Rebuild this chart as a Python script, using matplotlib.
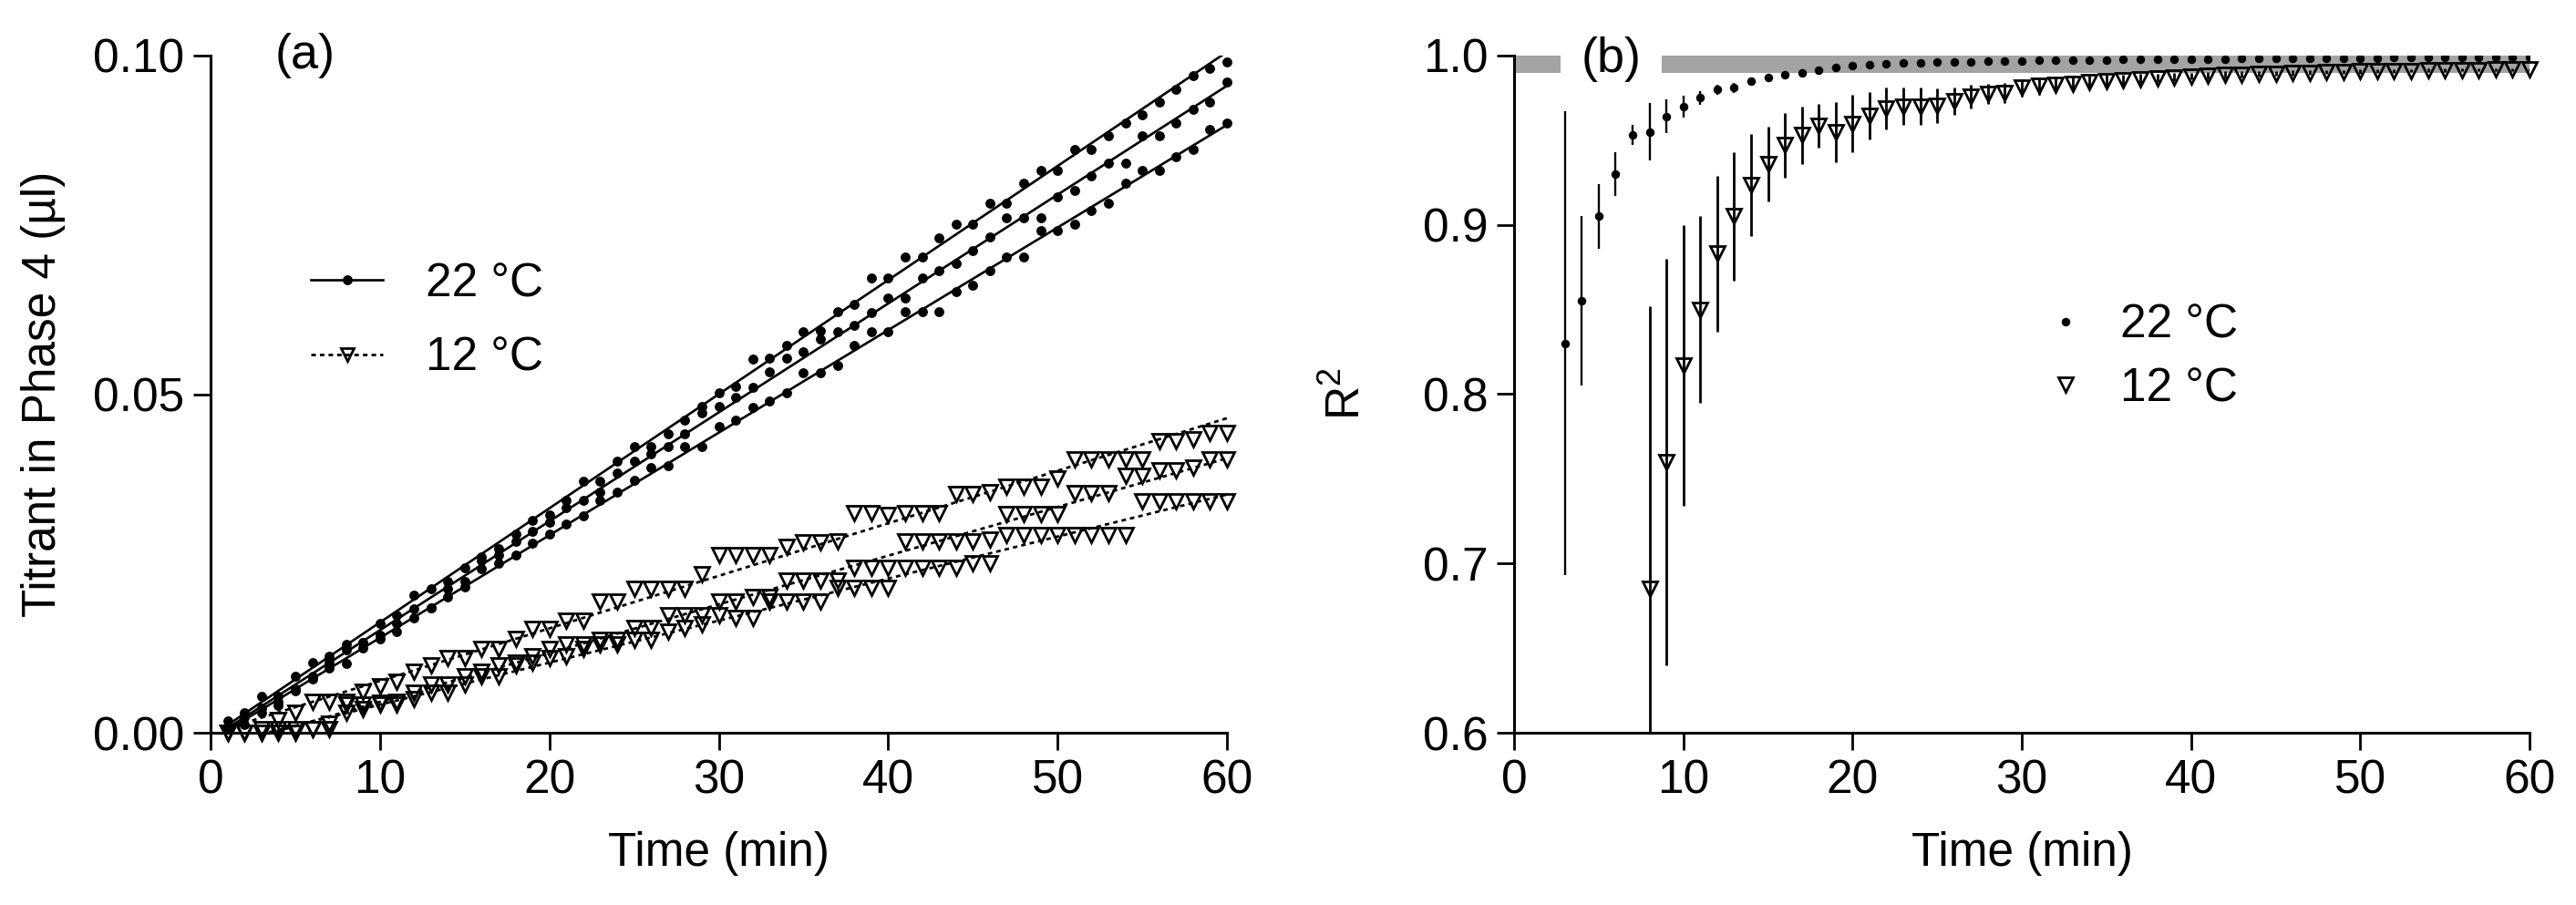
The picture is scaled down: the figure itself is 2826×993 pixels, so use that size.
import numpy as np
import matplotlib
matplotlib.use("Agg")
import matplotlib.pyplot as plt
from matplotlib.lines import Line2D

plt.rcParams['font.family'] = ['Liberation Sans', 'DejaVu Sans']
plt.rcParams['mathtext.fontset'] = 'custom'
plt.rcParams['mathtext.rm'] = 'Liberation Sans'
plt.rcParams['mathtext.it'] = 'Liberation Sans:italic'
plt.rcParams['mathtext.default'] = 'regular'

# ---------------- Panel (a) data ----------------
time_a = np.arange(1, 61)
t22_rep1 = [0.0017, 0.0030, 0.0054, 0.0054, 0.0083, 0.0104, 0.0113, 0.0131, 0.0133, 0.0162,
            0.0174, 0.0203, 0.0212, 0.0223, 0.0243, 0.0260, 0.0272, 0.0293, 0.0313, 0.0322,
            0.0343, 0.0372, 0.0372, 0.0401, 0.0422, 0.0422, 0.0441, 0.0462, 0.0482, 0.0502,
            0.0512, 0.0552, 0.0553, 0.0572, 0.0592, 0.0594, 0.0622, 0.0632, 0.0672, 0.0672,
            0.0702, 0.0702, 0.0731, 0.0751, 0.0751, 0.0782, 0.0782, 0.0812, 0.0831, 0.0831,
            0.0861, 0.0861, 0.0882, 0.0901, 0.0912, 0.0931, 0.0950, 0.0970, 0.0981, 0.0991]
t22_rep2 = [0.0008, 0.0023, 0.0036, 0.0046, 0.0064, 0.0084, 0.0104, 0.0123, 0.0133, 0.0144,
            0.0162, 0.0183, 0.0185, 0.0212, 0.0223, 0.0254, 0.0263, 0.0282, 0.0297, 0.0311,
            0.0333, 0.0343, 0.0355, 0.0383, 0.0401, 0.0412, 0.0422, 0.0441, 0.0472, 0.0482,
            0.0495, 0.0510, 0.0533, 0.0553, 0.0562, 0.0582, 0.0592, 0.0602, 0.0621, 0.0642,
            0.0642, 0.0672, 0.0683, 0.0693, 0.0712, 0.0732, 0.0761, 0.0761, 0.0761, 0.0792,
            0.0801, 0.0822, 0.0841, 0.0841, 0.0882, 0.0882, 0.0901, 0.0921, 0.0931, 0.0961]
t22_rep3 = [0.0005, 0.0012, 0.0030, 0.0040, 0.0062, 0.0080, 0.0095, 0.0102, 0.0125, 0.0139,
            0.0150, 0.0170, 0.0185, 0.0200, 0.0215, 0.0242, 0.0250, 0.0262, 0.0280, 0.0293,
            0.0308, 0.0320, 0.0343, 0.0355, 0.0373, 0.0391, 0.0395, 0.0422, 0.0422, 0.0452,
            0.0462, 0.0480, 0.0490, 0.0502, 0.0531, 0.0531, 0.0542, 0.0572, 0.0592, 0.0592,
            0.0622, 0.0622, 0.0622, 0.0652, 0.0661, 0.0683, 0.0702, 0.0702, 0.0741, 0.0741,
            0.0751, 0.0771, 0.0782, 0.0812, 0.0831, 0.0831, 0.0851, 0.0861, 0.0891, 0.0901]

t12_rep1 = [0.0000, 0.0000, 0.0005, 0.0019, 0.0030, 0.0046, 0.0046, 0.0046, 0.0060, 0.0068,
            0.0075, 0.0090, 0.0100, 0.0110, 0.0110, 0.0124, 0.0124, 0.0138, 0.0153, 0.0153,
            0.0165, 0.0165, 0.0194, 0.0194, 0.0212, 0.0212, 0.0212, 0.0212, 0.0234, 0.0262,
            0.0262, 0.0262, 0.0262, 0.0275, 0.0281, 0.0281, 0.0283, 0.0324, 0.0324, 0.0322,
            0.0324, 0.0324, 0.0324, 0.0353, 0.0353, 0.0355, 0.0364, 0.0364, 0.0364, 0.0375,
            0.0404, 0.0404, 0.0404, 0.0404, 0.0404, 0.0431, 0.0431, 0.0433, 0.0443, 0.0443]
t12_rep2 = [0.0000, 0.0000, 0.0000, 0.0005, 0.0005, 0.0005, 0.0014, 0.0042, 0.0042, 0.0044,
            0.0046, 0.0059, 0.0071, 0.0071, 0.0084, 0.0090, 0.0100, 0.0104, 0.0113, 0.0124,
            0.0130, 0.0130, 0.0137, 0.0137, 0.0155, 0.0155, 0.0173, 0.0173, 0.0173, 0.0194,
            0.0194, 0.0200, 0.0200, 0.0225, 0.0225, 0.0225, 0.0225, 0.0243, 0.0243, 0.0243,
            0.0283, 0.0283, 0.0283, 0.0283, 0.0283, 0.0285, 0.0323, 0.0323, 0.0323, 0.0323,
            0.0354, 0.0354, 0.0354, 0.0380, 0.0380, 0.0387, 0.0387, 0.0392, 0.0404, 0.0404]
t12_rep3 = [0.0000, 0.0000, 0.0000, 0.0000, 0.0000, 0.0005, 0.0005, 0.0030, 0.0035, 0.0042,
            0.0042, 0.0050, 0.0059, 0.0059, 0.0071, 0.0084, 0.0084, 0.0100, 0.0104, 0.0110,
            0.0113, 0.0124, 0.0130, 0.0130, 0.0137, 0.0137, 0.0150, 0.0155, 0.0160, 0.0173,
            0.0170, 0.0170, 0.0194, 0.0194, 0.0194, 0.0194, 0.0214, 0.0214, 0.0214, 0.0214,
            0.0243, 0.0243, 0.0243, 0.0243, 0.0250, 0.0250, 0.0292, 0.0292, 0.0292, 0.0292,
            0.0292, 0.0292, 0.0292, 0.0292, 0.0342, 0.0342, 0.0342, 0.0342, 0.0342, 0.0342]

# ---------------- Panel (b) data ----------------
time_r22 = np.arange(3, 61)
r2_22 = [0.830, 0.855, 0.905, 0.930, 0.953, 0.955, 0.964, 0.970, 0.975, 0.980,
         0.981, 0.985, 0.987, 0.9885, 0.990, 0.9915, 0.993, 0.994, 0.9945, 0.995,
         0.9955, 0.9958, 0.9960, 0.9962, 0.9964, 0.9966, 0.9968, 0.9970, 0.9971, 0.9972,
         0.9973, 0.9974, 0.9975, 0.9976, 0.9977, 0.9978, 0.9979, 0.9980, 0.9980, 0.9981,
         0.9982, 0.9982, 0.9983, 0.9984, 0.9984, 0.9985, 0.9985, 0.9986, 0.9986, 0.9987,
         0.9987, 0.9988, 0.9988, 0.9989, 0.9989, 0.9990, 0.9990, 0.9991]
err_22 = [0.137, 0.050, 0.019, 0.013, 0.006, 0.017, 0.010, 0.0065, 0.004, 0.003,
          0.003, 0.002, 0.002, 0.0015, 0.0015, 0.001, 0.001, 0.001, 0.001, 0.001,
          0.0008, 0.0008, 0.0008, 0.0008, 0.0008, 0.0008, 0.0008, 0.0008, 0.0006, 0.0006,
          0.0006, 0.0006, 0.0006, 0.0006, 0.0006, 0.0006, 0.0006, 0.0006, 0.0005, 0.0005,
          0.0005, 0.0005, 0.0005, 0.0005, 0.0005, 0.0005, 0.0005, 0.0005, 0.0004, 0.0004,
          0.0004, 0.0004, 0.0004, 0.0004, 0.0004, 0.0004, 0.0004, 0.0004]

time_r12 = np.arange(8, 61)
r2_12 = [0.685, 0.760, 0.817, 0.850, 0.883, 0.905, 0.9235, 0.936, 0.947, 0.953,
         0.9584, 0.9548, 0.9597, 0.9647, 0.9687, 0.970, 0.970, 0.9704, 0.9731, 0.9758,
         0.9772, 0.978, 0.981, 0.9820, 0.9828, 0.9835, 0.9842, 0.9850, 0.9856, 0.9862,
         0.9868, 0.9873, 0.9878, 0.9882, 0.9886, 0.9889, 0.9892, 0.9895, 0.9898, 0.9900,
         0.9902, 0.9904, 0.9906, 0.9908, 0.9910, 0.9911, 0.9913, 0.9914, 0.9915, 0.9916,
         0.9917, 0.9918, 0.9919]
err_12 = [0.167, 0.120, 0.083, 0.055, 0.046, 0.038, 0.030, 0.022, 0.019, 0.017,
          0.013, 0.018, 0.017, 0.014, 0.0125, 0.011, 0.011, 0.010, 0.008, 0.007,
          0.006, 0.006, 0.005, 0.005, 0.0045, 0.004, 0.004, 0.0035, 0.003, 0.003,
          0.0025, 0.0025, 0.002, 0.002, 0.002, 0.0018, 0.0016, 0.0015, 0.0014, 0.0013,
          0.0012, 0.0012, 0.0011, 0.0011, 0.001, 0.001, 0.001, 0.001, 0.0009, 0.0009,
          0.0009, 0.0008, 0.0008]

r2_threshold = 0.99

x_ticks = [0, 10, 20, 30, 40, 50, 60]
ya_ticks = [0.00, 0.05, 0.10]
ya_labels = ['0.00', '0.05', '0.10']
yb_ticks = [0.6, 0.7, 0.8, 0.9, 1.0]
yb_labels = ['0.6', '0.7', '0.8', '0.9', '1.0']

FS = 37

fig = plt.figure(figsize=(28.26, 9.93), dpi=100)
W, H = 2826, 993
ax1 = fig.add_axes([231 / W, 1 - 804 / H, 1115 / W, 743 / H])
ax2 = fig.add_axes([1661 / W, 1 - 804 / H, 1114 / W, 743 / H])


def style(ax):
    for s in ['top', 'right']:
        ax.spines[s].set_visible(False)
    for s in ['left', 'bottom']:
        ax.spines[s].set_linewidth(2.2)
    ax.tick_params(direction='out', length=14, width=2.0, labelsize=FS, pad=6.5)


# ---------------- Panel (a) ----------------
for rep in [t22_rep1, t22_rep2, t22_rep3]:
    y = np.array(rep)
    ax1.plot(time_a, y, ls='none', marker='o', ms=6.8, color='k', clip_on=False, zorder=3)
    c = np.polyfit(time_a, y, 1)
    ax1.plot(time_a, np.polyval(c, time_a), '-', color='k', lw=1.9, zorder=4)
for rep in [t12_rep1, t12_rep2, t12_rep3]:
    y = np.array(rep)
    ax1.plot(time_a, y, ls='none', marker='v', ms=11.5, mfc='none', mec='k', mew=2.0,
             clip_on=False, zorder=3)
    c = np.polyfit(time_a, y, 1)
    ax1.plot(time_a, np.polyval(c, time_a), ls=(0, (1.8, 1.6)), color='k', lw=2.0, zorder=4)

ax1.set_xlim(0, 60)
ax1.set_ylim(0, 0.10)
ax1.set_xticks(x_ticks)
ax1.set_yticks(ya_ticks)
ax1.set_yticklabels(ya_labels)
style(ax1)
ax1.set_xlabel('Time (min)', fontsize=FS, labelpad=22)
ax1.set_ylabel('Titrant in Phase 4 (\u00b5l)', fontsize=FS, va='center')
ax1.yaxis.set_label_coords(-0.165, 0.5)
ax1.text(0.0927, 1.0, '(a)', transform=ax1.transAxes, fontsize=FS + 2,
         ha='center', va='center')

h22 = Line2D([], [], color='k', lw=1.9, marker='o', ms=6.8)
h12 = Line2D([], [], color='k', lw=2.0, ls=(0, (1.8, 1.6)), marker='v', ms=10, mfc='none',
             mec='k', mew=2.0)
ax1.legend([h22, h12], ['22 \u00b0C', '12 \u00b0C'], loc='center left',
           bbox_to_anchor=(0.0987, 0.6077), frameon=False, fontsize=FS,
           handlelength=1.54, handletextpad=0.91, labelspacing=0.63,
           borderaxespad=0, borderpad=0)

# ---------------- Panel (b) ----------------
ax2.axhspan(r2_threshold, 1.0, color='#a3a3a6', lw=0, zorder=1)
ax2.errorbar(time_r22, r2_22, yerr=err_22, fmt='o', ms=5.8, color='k', ecolor='k',
             elinewidth=1.7, capsize=0, zorder=3)
eb = ax2.errorbar(time_r12, r2_12, yerr=err_12, fmt='v', ms=11.5, mfc='none', mec='k',
                  mew=2.0, ecolor='k', elinewidth=2.0, capsize=0, zorder=3)
eb[0].set_clip_on(False)

ax2.set_xlim(0, 60)
ax2.set_ylim(0.6, 1.0)
ax2.set_xticks(x_ticks)
ax2.set_yticks(yb_ticks)
ax2.set_yticklabels(yb_labels)
style(ax2)
ax2.set_xlabel('Time (min)', fontsize=FS, labelpad=22)
ax2.set_ylabel('R$^2$', fontsize=FS, va='center')
ax2.yaxis.set_label_coords(-0.164, 0.5)
ax2.text(0.0958, 0.995, '(b)', transform=ax2.transAxes, fontsize=FS + 2,
         ha='center', va='center', zorder=2,
         bbox=dict(boxstyle='square,pad=0.42', fc='white', ec='none'))

g22 = Line2D([], [], ls='none', marker='o', ms=5.8, color='k')
g12 = Line2D([], [], ls='none', marker='v', ms=11.5, mfc='none', mec='k', mew=2.0)
ax2.legend([g22, g12], ['22 \u00b0C', '12 \u00b0C'], loc='center left',
           bbox_to_anchor=(0.52, 0.5545), frameon=False, fontsize=FS,
           handlelength=1.0, handletextpad=0.66, labelspacing=0.39,
           borderaxespad=0, borderpad=0)

fig.savefig('out.png', dpi=100)
